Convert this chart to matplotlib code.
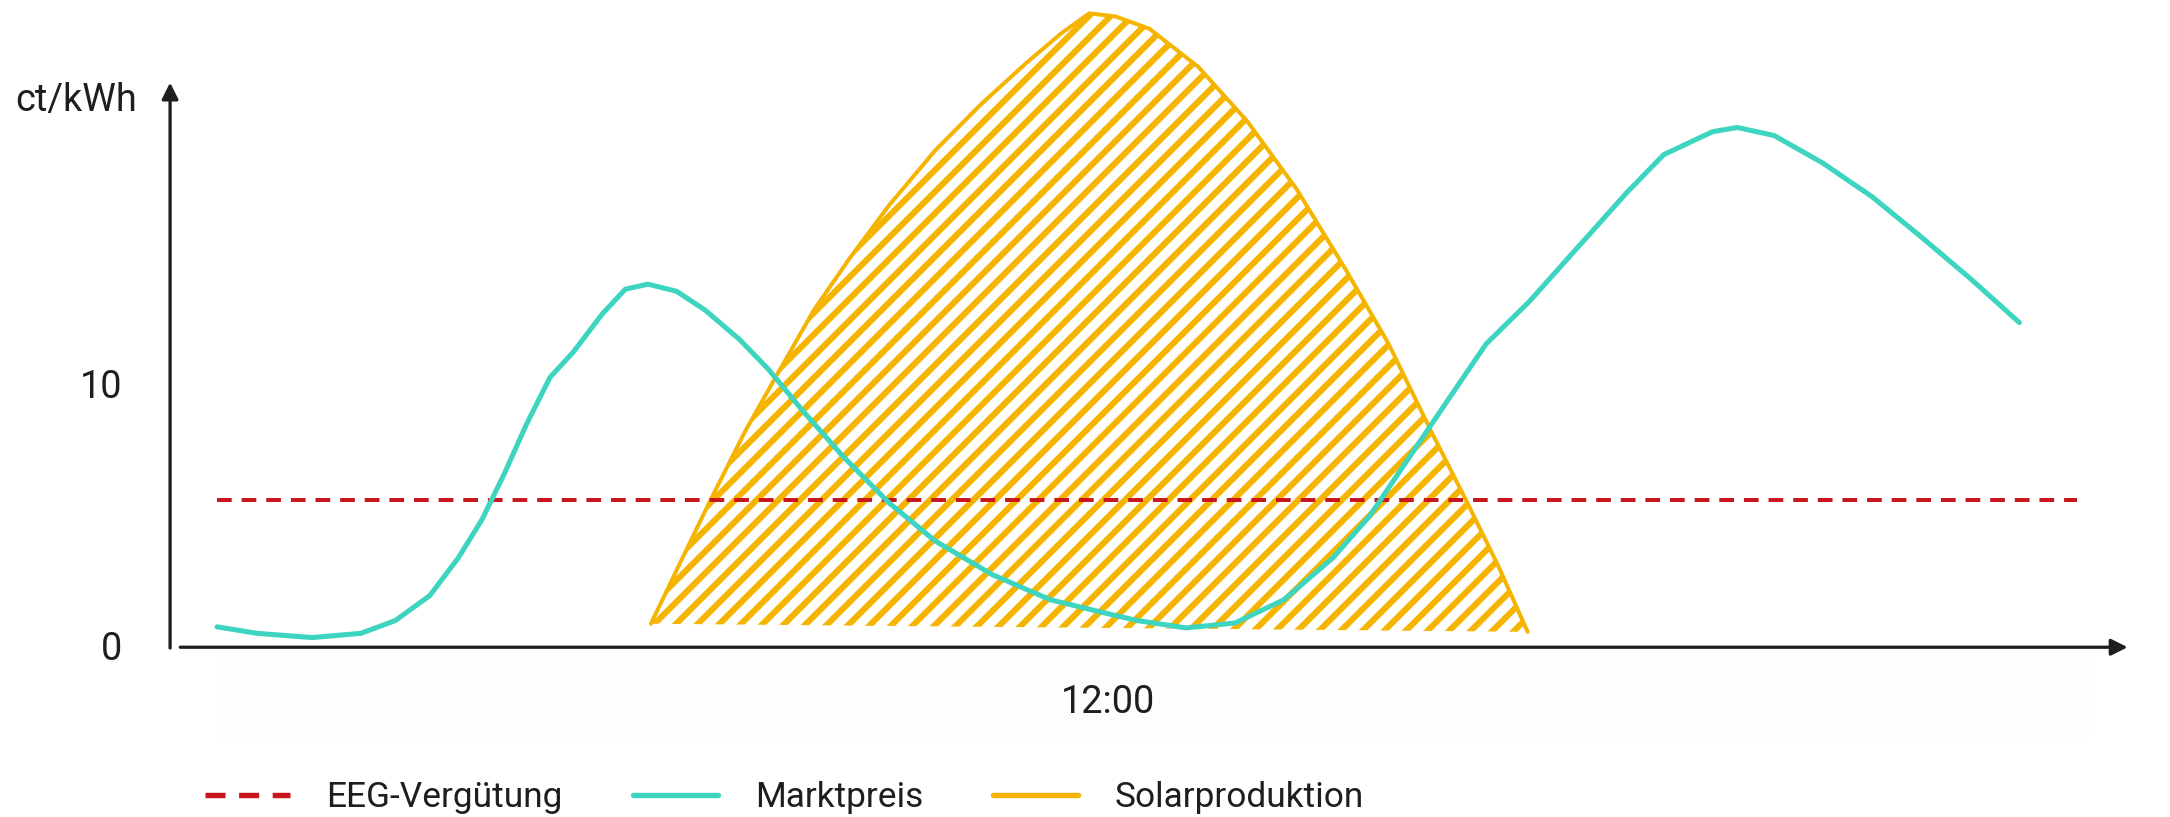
import matplotlib
matplotlib.use('Agg')
import matplotlib.pyplot as plt
from matplotlib.patches import Rectangle

plt.rcParams['font.family'] = ['Roboto', 'DejaVu Sans']
plt.rcParams['hatch.linewidth'] = 3.4

# ── colours ───────────────────────────────────────────────
TEAL = '#3DD5C0'
GOLD = '#F5B400'
RED  = '#C8161D'
INK  = '#1E1E1E'

# ── data (hours of day / ct per kWh) ─
EEG_LEVEL = 5.6
EEG_SPAN  = [0.0, 24.74]

PRICE_H = [0.0, 0.54, 1.26, 1.91, 2.37, 2.83, 3.21, 3.52, 3.82, 4.12, 4.43,
           4.74, 5.12, 5.43, 5.73, 6.11, 6.49, 6.95, 7.33, 7.79, 8.33, 8.94,
           9.55, 10.31, 11.08, 11.75, 12.24, 12.89, 13.54, 14.19, 14.84,
           15.33, 15.82, 16.31, 16.88, 17.45, 18.1, 18.75, 19.24, 19.89,
           20.22, 20.71, 21.36, 22.01, 22.66, 23.32, 23.97]
PRICE   = [0.73, 0.48, 0.32, 0.48, 0.97, 1.93, 3.38, 4.82, 6.59, 8.52, 10.29,
           11.26, 12.7, 13.66, 13.85, 13.58, 12.86, 11.73, 10.6, 9.0, 7.24, 5.47,
           4.02, 2.73, 1.77, 1.3, 0.97, 0.69, 0.88, 1.77, 3.37,
           4.98, 7.07, 9.16, 11.57, 13.18, 15.27, 17.36, 18.81, 19.69,
           19.85, 19.54, 18.48, 17.2, 15.67, 14.06, 12.38]

SOLAR_H = [5.77, 6.19, 6.57, 7.02, 7.49, 7.94, 8.4, 8.94, 9.55, 10.16, 10.77,
           11.23, 11.6, 11.95, 12.4, 13.05, 13.7, 14.35, 15.0, 15.58, 16.15,
           16.63, 17.04, 17.43]
SOLAR   = [0.85, 3.37, 5.63, 8.2, 10.6, 12.87, 14.79, 16.88, 18.97, 20.74, 22.34,
           23.46, 24.22, 24.1, 23.63, 22.17, 20.09, 17.52, 14.46, 11.57, 8.2,
           5.47, 3.06, 0.54]

Y_TICKS = [0, 10]
X_TICK = 11.85
X_TICK_LABEL = '12:00'
Y_UNIT = 'ct/kWh'

# ── figure ────────────────────────────────────────────────
DPI = 130
fig = plt.figure(figsize=(2170.5 / DPI, 817.5 / DPI), dpi=DPI, facecolor='white')
ax = fig.add_axes([0, 0, 1, 1])
ax.set_xlim(-2.887, 25.98)
ax.set_ylim(-6.55, 24.75)
ax.axis('off')

# faint panel under the time axis
ax.add_patch(Rectangle((0, -3.52), 24.9, 3.52, fc='#fdfdfd', ec='none', zorder=0))

# solar production: hatched area + outline
ax.fill(SOLAR_H, SOLAR, facecolor='none', edgecolor=GOLD, lw=0, hatch='//', zorder=1)
ax.plot(SOLAR_H, SOLAR, color=GOLD, lw=2.2, solid_joinstyle='round',
        solid_capstyle='round', zorder=2, label='Solarproduktion')

# EEG feed-in tariff
ax.plot(EEG_SPAN, [EEG_LEVEL, EEG_LEVEL], color=RED, lw=2.2,
        dashes=(3.7, 2.5), zorder=3, label='EEG-Vergütung')

# market price
ax.plot(PRICE_H, PRICE, color=TEAL, lw=2.8, solid_joinstyle='round',
        solid_capstyle='round', zorder=4, label='Marktpreis')

# ── axes as arrows ────────────────────────────────────────
arrow = dict(arrowstyle='-|>', color=INK, lw=1.8, mutation_scale=19,
             shrinkA=0, shrinkB=0)
ax.annotate('', xy=(-0.625, 21.57), xytext=(-0.625, -0.08), arrowprops=arrow)
ax.annotate('', xy=(25.41, -0.05), xytext=(-0.49, -0.05), arrowprops=arrow)

# tick labels / unit
for v in Y_TICKS:
    ax.text(-1.264, v - 0.1, str(v), ha='right', va='center',
            fontsize=21, color=INK)
ax.text(-1.88, 20.9, Y_UNIT, ha='center', va='center', fontsize=21, color=INK)
ax.text(X_TICK, -2.15, X_TICK_LABEL, ha='center', va='center',
        fontsize=21, color=INK)

# ── legend ────────────────────────────────────────────────
h, l = ax.get_legend_handles_labels()
order = [l.index('EEG-Vergütung'), l.index('Marktpreis'), l.index('Solarproduktion')]
leg = ax.legend([h[i] for i in order], [l[i] for i in order],
                loc='center left', bbox_to_anchor=(205 / 2170, 0.024),
                bbox_transform=fig.transFigure, ncol=3, frameon=False,
                fontsize=19.5, handlelength=2.4, handletextpad=1.05,
                columnspacing=2.0, borderpad=0, borderaxespad=0)
for t in leg.get_texts():
    t.set_color(INK)
for line in leg.get_lines():
    line.set_linewidth(3.0)

fig.savefig('out.png', dpi=DPI, facecolor='white')
